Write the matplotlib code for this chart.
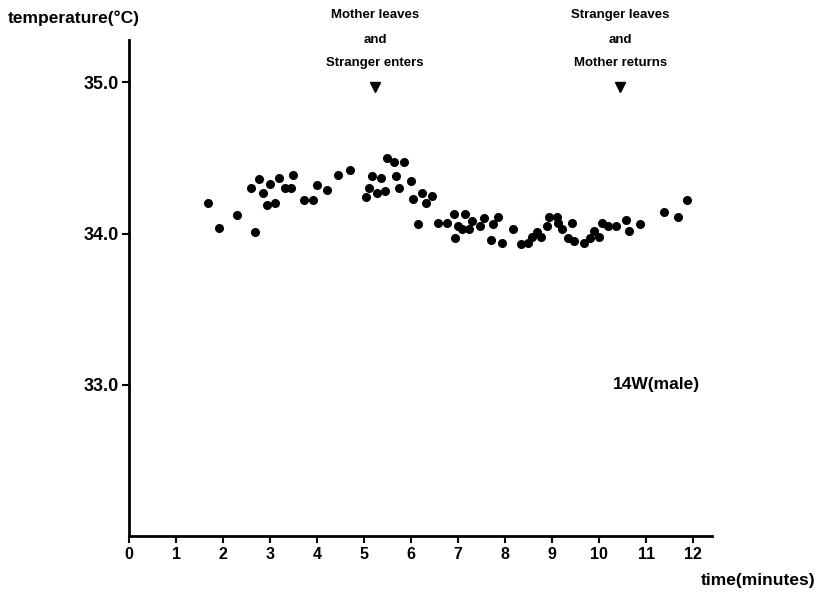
import matplotlib
matplotlib.use("Agg")
import matplotlib.pyplot as plt
from matplotlib.transforms import blended_transform_factory

plt.rcParams['font.family'] = ['Liberation Sans', 'DejaVu Sans']
plt.rcParams['font.weight'] = 'bold'

# Data (time in minutes, temperature in °C)
time_min = [1.69, 1.92, 2.30, 2.69, 2.59, 2.76, 2.85, 2.94, 3.00, 3.11,
            3.19, 3.32, 3.45, 3.48, 3.72, 3.92, 3.99, 4.21, 4.44, 4.71,
            5.04, 5.10, 5.16, 5.28, 5.35, 5.44, 5.49, 5.64, 5.68, 5.75,
            5.85, 5.99, 6.04, 6.23, 6.32, 6.44, 6.14, 6.57, 6.76, 6.92,
            6.94, 6.99, 7.09, 7.15, 7.24, 7.29, 7.47, 7.55, 7.71, 7.74,
            7.84, 7.94, 8.16, 8.34, 8.48, 8.58, 8.67, 8.76, 8.89, 8.94,
            9.11, 9.13, 9.21, 9.33, 9.42, 9.47, 9.67, 9.81, 9.88, 9.99,
            10.05, 10.19, 10.36, 10.57, 10.64, 10.87, 11.38, 11.68, 11.87]
temperature = [34.20, 34.04, 34.12, 34.01, 34.30, 34.36, 34.27, 34.19, 34.33, 34.20,
               34.37, 34.30, 34.30, 34.39, 34.22, 34.22, 34.32, 34.29, 34.39, 34.42,
               34.24, 34.30, 34.38, 34.27, 34.37, 34.28, 34.50, 34.47, 34.38, 34.30,
               34.47, 34.35, 34.23, 34.27, 34.20, 34.25, 34.06, 34.07, 34.07, 34.13,
               33.97, 34.05, 34.03, 34.13, 34.03, 34.08, 34.05, 34.10, 33.96, 34.06,
               34.11, 33.94, 34.03, 33.93, 33.94, 33.98, 34.01, 33.98, 34.05, 34.11,
               34.11, 34.07, 34.03, 33.97, 34.07, 33.95, 33.94, 33.97, 34.02, 33.98,
               34.07, 34.05, 34.05, 34.09, 34.02, 34.06, 34.14, 34.11, 34.22]

x_ticks = list(range(0, 13))
y_ticks = [33.0, 34.0, 35.0]
y_tick_labels = ["33.0", "34.0", "35.0"]
event_times = [5.23, 10.45]
event_lines = [["Mother leaves", "and", "Stranger enters"],
               ["Stranger leaves", "and", "Mother returns"]]

W, H = 823, 596
fig = plt.figure(figsize=(W / 100, H / 100), dpi=100)
ax = fig.add_axes([129 / W, 1 - 536 / H, (712 - 129) / W, (536 - 40) / H])

ax.plot(time_min, temperature, 'o', color='black', ms=5.5, mec='black')

ax.set_xlim(0, 12.4)
ax.set_ylim(32.0, 35.28)
ax.set_xticks(x_ticks)
ax.set_xticklabels([str(t) for t in x_ticks], fontsize=11.5, fontweight='bold')
ax.set_yticks(y_ticks)
ax.set_yticklabels(y_tick_labels, fontsize=13, fontweight='bold')
ax.tick_params(axis='both', direction='out', length=5, width=1.5, colors='black')
ax.tick_params(axis='x', pad=3)
ax.tick_params(axis='y', pad=2)
for s in ['top', 'right']:
    ax.spines[s].set_visible(False)
for s in ['left', 'bottom']:
    ax.spines[s].set_linewidth(2)

def px(x, y):
    return x / W, 1 - y / H

fig.text(*px(8, 18), "temperature(°C)", fontsize=12.5, fontweight='bold', ha='left', va='center')
fig.text(*px(815, 580), "time(minutes)", fontsize=12.5, fontweight='bold', ha='right', va='center')
ax.text(0.98, 33.0, "14W(male)", transform=ax.get_yaxis_transform(), fontsize=12.5,
        fontweight='bold', ha='right', va='center')

blend = blended_transform_factory(ax.transData, fig.transFigure)
line_y = [15, 40, 63]
for t, lines in zip(event_times, event_lines):
    for ly, txt in zip(line_y, lines):
        ax.text(t, 1 - ly / H, txt, transform=blend, ha='center', va='center',
                fontsize=9.5, fontweight='bold', clip_on=False)
    ax.plot([t], [34.97], marker='v', color='black', ms=6.5, clip_on=False)

fig.savefig("out.png", dpi=100)
